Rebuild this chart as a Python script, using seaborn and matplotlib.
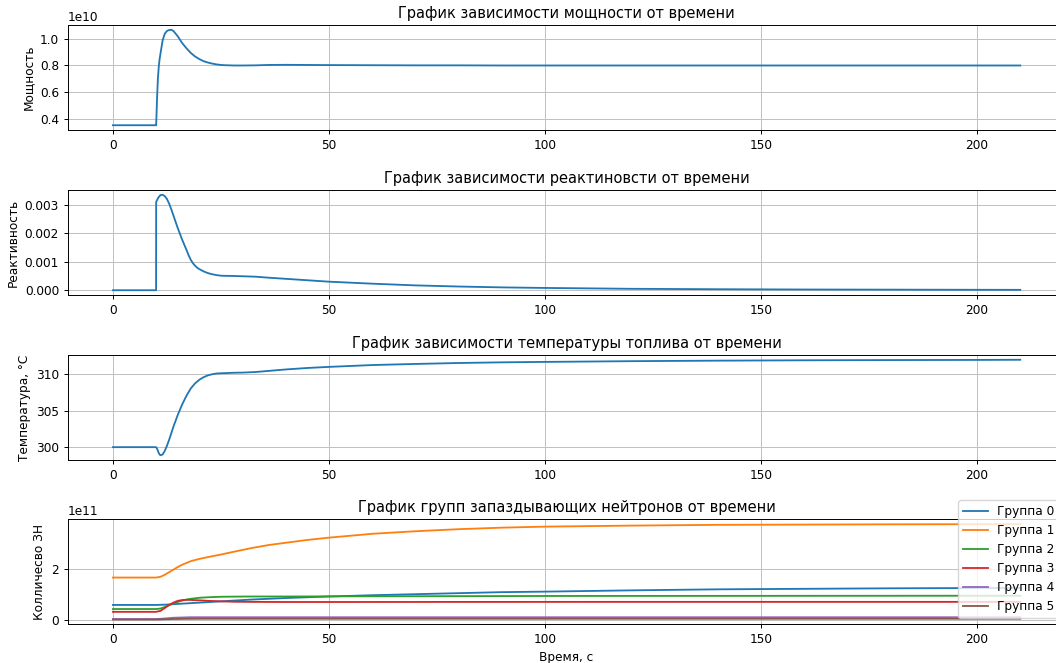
import numpy as np
import pandas as pd
import matplotlib
matplotlib.use("Agg")
import matplotlib.pyplot as plt
import seaborn as sns

# ---------------- data ----------------
t_main = [0, 9.95, 10.0, 10.2, 10.4, 10.6, 10.8, 11.0, 11.5, 12.0, 12.5, 13.0, 13.5, 14.0,
          15.0, 16.0, 17.0, 18.0, 19.0, 20.0, 21.0, 22.0, 23.0, 24.0, 25.0, 26.0, 28.0,
          30.0, 33.0, 36.0, 40.0, 45.0, 50.0, 60.0, 70.0, 80.0, 90.0, 100.0, 120.0,
          140.0, 160.0, 180.0, 200.0, 210.0]

# power, units of 1e10 W
power = [0.35, 0.35, 0.35, 0.55, 0.70, 0.79, 0.85, 0.89, 0.99, 1.04, 1.06, 1.067, 1.069, 1.06,
         1.02, 0.97, 0.93, 0.895, 0.868, 0.848, 0.832, 0.822, 0.814, 0.808, 0.804, 0.802, 0.800,
         0.800, 0.801, 0.804, 0.805, 0.804, 0.803, 0.802, 0.801, 0.801, 0.800, 0.800, 0.800,
         0.800, 0.800, 0.800, 0.800, 0.800]

temperature = [300.0, 300.0, 300.0, 299.8, 299.5, 299.2, 299.0, 298.9, 299.0, 299.5, 300.2,
               301.0, 301.9, 302.8, 304.4, 305.8, 307.0, 308.0, 308.7, 309.2, 309.55, 309.8,
               309.95, 310.05, 310.08, 310.1, 310.15, 310.17, 310.25, 310.4, 310.6, 310.8,
               310.95, 311.2, 311.35, 311.48, 311.57, 311.63, 311.73, 311.8, 311.85, 311.88,
               311.9, 311.92]

t_react = [0, 9.98, 10.0, 10.5, 11.0, 11.5, 12.0, 12.5, 13.0, 13.5, 14.0, 14.5, 15.0, 15.5,
           16.0, 16.5, 17.0, 17.5, 18.0, 18.5, 19.0, 19.5, 20.0, 21.0, 22.0, 23.0, 24.0, 25.0,
           26.0, 28.0, 30.0, 33.0, 36.0, 40.0, 45.0, 50.0, 60.0, 70.0, 80.0, 90.0, 100.0,
           120.0, 140.0, 160.0, 180.0, 200.0, 210.0]
reactivity = [0.0, 0.0, 0.0031, 0.00325, 0.00334, 0.00335, 0.0033, 0.0032, 0.00304, 0.00284,
              0.00262, 0.0024, 0.00218, 0.00198, 0.00178, 0.0016, 0.00142, 0.00123, 0.00107,
              0.00095, 0.00086, 0.00079, 0.00074, 0.00066, 0.0006, 0.00056, 0.00053, 0.00051,
              0.000505, 0.0005, 0.00049, 0.000475, 0.00044, 0.0004, 0.00035, 0.0003, 0.00023,
              0.00017, 0.00013, 0.0001, 0.00008, 0.00005, 0.000035, 0.000025, 0.00002,
              0.000015, 0.000013]

t_groups = [0, 10, 11, 12, 13, 14, 15, 16, 17, 18, 20, 22, 25, 28, 32, 36, 40, 45, 50, 60,
            70, 80, 90, 100, 120, 140, 160, 180, 200, 210]

# delayed neutron groups, units of 1e11
group0 = [0.58, 0.58, 0.585, 0.59, 0.60, 0.61, 0.62, 0.63, 0.64, 0.65, 0.67, 0.69, 0.72, 0.75,
          0.79, 0.82, 0.85, 0.88, 0.91, 0.96, 1.00, 1.04, 1.08, 1.10, 1.15, 1.19, 1.21, 1.23,
          1.24, 1.245]
group1 = [1.65, 1.65, 1.68, 1.76, 1.86, 1.96, 2.06, 2.15, 2.22, 2.29, 2.38, 2.45, 2.55, 2.66,
          2.80, 2.92, 3.01, 3.12, 3.21, 3.36, 3.46, 3.54, 3.60, 3.64, 3.68, 3.71, 3.72, 3.73,
          3.735, 3.74]
group2 = [0.42, 0.42, 0.44, 0.50, 0.57, 0.64, 0.70, 0.75, 0.79, 0.82, 0.86, 0.88, 0.90, 0.905,
          0.91, 0.91, 0.91, 0.912, 0.915, 0.918, 0.92, 0.923, 0.926, 0.93, 0.932, 0.934, 0.936,
          0.938, 0.94, 0.94]
group3 = [0.31, 0.31, 0.35, 0.46, 0.58, 0.67, 0.74, 0.77, 0.78, 0.775, 0.76, 0.74, 0.72, 0.705,
          0.70, 0.697, 0.695, 0.695, 0.695, 0.696, 0.697, 0.698, 0.698, 0.699, 0.70, 0.70, 0.70,
          0.70, 0.70, 0.70]
group4 = [0.03, 0.03, 0.04, 0.05, 0.065, 0.08, 0.085, 0.09, 0.095, 0.10, 0.10, 0.10, 0.10, 0.10,
          0.10, 0.10, 0.10, 0.10, 0.10, 0.10, 0.10, 0.10, 0.10, 0.10, 0.10, 0.10, 0.10, 0.10,
          0.10, 0.10]
group5 = [0.01, 0.01, 0.015, 0.02, 0.025, 0.03, 0.032, 0.035, 0.037, 0.038, 0.04, 0.04, 0.04,
          0.04, 0.04, 0.04, 0.04, 0.04, 0.04, 0.04, 0.04, 0.04, 0.04, 0.04, 0.04, 0.04, 0.04,
          0.04, 0.04, 0.04]
group_labels = ["Группа 0", "Группа 1", "Группа 2", "Группа 3", "Группа 4", "Группа 5"]

power_ticks = [0.4e10, 0.6e10, 0.8e10, 1.0e10]
react_ticks = [0.0, 0.001, 0.002, 0.003]
temp_ticks = [300, 305, 310]
group_ticks = [0, 2e11]

titles = ["График зависимости мощности от времени",
          "График зависимости реактиновсти от времени",
          "График зависимости температуры топлива от времени",
          "График групп запаздывающих нейтронов от времени"]
ylabels = ["Мощность", "Реактивность", "Температура, °C", "Колличесво ЗН"]
xlabel = "Время, с"

# ---------------- figure ----------------
S = 0.875  # scale of the original rendering
plt.rcParams.update({
    "font.size": 10 * S,
    "axes.linewidth": 0.8 * S,
    "grid.linewidth": 0.8 * S,
    "grid.color": "#c0c0c0",
    "xtick.major.width": 0.8 * S,
    "ytick.major.width": 0.8 * S,
    "xtick.major.size": 3.5 * S,
    "ytick.major.size": 3.5 * S,
    "xtick.major.pad": 3.5 * S,
    "ytick.major.pad": 3.5 * S,
    "axes.titlepad": 6 * S,
    "axes.labelpad": 4 * S,
})

fig = plt.figure(figsize=(10.56, 6.63), dpi=100)
left = 67.6 / 1056
width = (1065.6 - 67.6) / 1056
tops = [25, 190, 355, 519.3]
h = 105
axes = [fig.add_axes([left, 1 - (tp + h) / 663, width, h / 663]) for tp in tops]

main_df = pd.DataFrame({"t": t_main,
                        "power": np.array(power) * 1e10,
                        "temp": temperature})
react_df = pd.DataFrame({"t": t_react, "react": reactivity})

lw = 1.5 * S
sns.lineplot(data=main_df, x="t", y="power", ax=axes[0], color="C0", linewidth=lw)
sns.lineplot(data=react_df, x="t", y="react", ax=axes[1], color="C0", linewidth=lw)
sns.lineplot(data=main_df, x="t", y="temp", ax=axes[2], color="C0", linewidth=lw)

groups = [group0, group1, group2, group3, group4, group5]
for i, (g, lab) in enumerate(zip(groups, group_labels)):
    sns.lineplot(x=t_groups, y=np.array(g) * 1e11, ax=axes[3], color=f"C{i}",
                 label=lab, linewidth=lw)

tick_sets = [power_ticks, react_ticks, temp_ticks, group_ticks]
for ax, title, yl, ticks in zip(axes, titles, ylabels, tick_sets):
    ax.set_title(title, fontsize=12 * S)
    ax.set_ylabel(yl, fontsize=10 * S)
    ax.set_xlabel("")
    ax.set_yticks(ticks)
    ax.grid(True)
    ax.set_xlim(-10.5, 220.5)

axes[3].set_xlabel(xlabel, fontsize=10 * S)
axes[3].legend(loc="lower right", fontsize=10 * S)

fig.savefig("out.png", dpi=100)
